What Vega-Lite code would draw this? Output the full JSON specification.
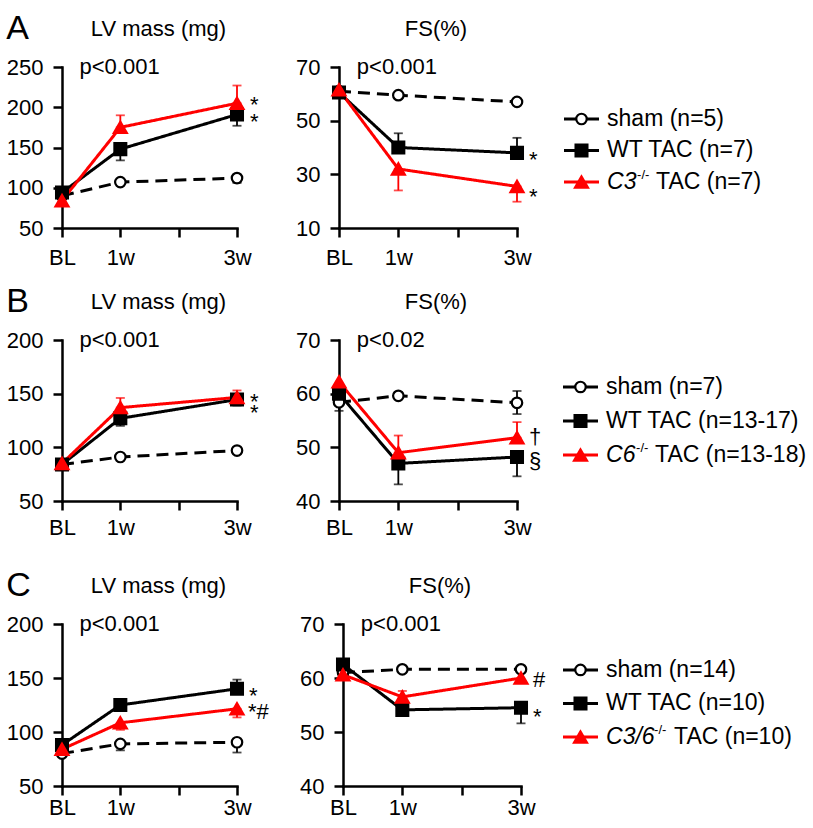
{
"$schema":"https://vega.github.io/schema/vega-lite/v6.json",
"background":"white",
"padding":{"left":6,"top":12,"right":0,"bottom":0},
"config":{"font":"Liberation Sans","view":{"stroke":null},
"axis":{"grid":false,"domainColor":"black","domainWidth":2.5,"domainCap":"square","tickColor":"black","tickWidth":2.5,"tickSize":9,"labelFontSize":22,"labelColor":"black","labelPadding":10},
"title":{"color":"black","fontWeight":"normal"},"text":{"color":"black"}},
"datasets":{
"pts":[
{"p":"A","m":"LV","g":"sham","w":0,"v":90},{"p":"A","m":"LV","g":"sham","w":1,"v":107},{"p":"A","m":"LV","g":"sham","w":3,"v":112,"lo":106,"hi":112},
{"p":"A","m":"LV","g":"WT","w":0,"v":94},{"p":"A","m":"LV","g":"WT","w":1,"v":148,"lo":134,"hi":148},{"p":"A","m":"LV","g":"WT","w":3,"v":191,"lo":177,"hi":191},
{"p":"A","m":"LV","g":"KO","w":0,"v":84},{"p":"A","m":"LV","g":"KO","w":1,"v":175,"lo":175,"hi":190},{"p":"A","m":"LV","g":"KO","w":3,"v":205,"lo":205,"hi":227},
{"p":"A","m":"FS","g":"sham","w":0,"v":61},{"p":"A","m":"FS","g":"sham","w":1,"v":59.5},{"p":"A","m":"FS","g":"sham","w":3,"v":57},
{"p":"A","m":"FS","g":"WT","w":0,"v":60.5},{"p":"A","m":"FS","g":"WT","w":1,"v":40,"lo":40,"hi":45.3},{"p":"A","m":"FS","g":"WT","w":3,"v":38,"lo":38,"hi":43.6},
{"p":"A","m":"FS","g":"KO","w":0,"v":61.5},{"p":"A","m":"FS","g":"KO","w":1,"v":32,"lo":24,"hi":32},{"p":"A","m":"FS","g":"KO","w":3,"v":25.5,"lo":19.8,"hi":25.5},
{"p":"B","m":"LV","g":"sham","w":0,"v":84},{"p":"B","m":"LV","g":"sham","w":1,"v":91},{"p":"B","m":"LV","g":"sham","w":3,"v":97,"lo":94,"hi":97},
{"p":"B","m":"LV","g":"WT","w":0,"v":84},{"p":"B","m":"LV","g":"WT","w":1,"v":127,"lo":120,"hi":127},{"p":"B","m":"LV","g":"WT","w":3,"v":144.5,"lo":139,"hi":144.5},
{"p":"B","m":"LV","g":"KO","w":0,"v":85},{"p":"B","m":"LV","g":"KO","w":1,"v":137,"lo":137,"hi":146},{"p":"B","m":"LV","g":"KO","w":3,"v":146.5,"lo":146.5,"hi":153},
{"p":"B","m":"FS","g":"sham","w":0,"v":58.4,"lo":56.8,"hi":58.4},{"p":"B","m":"FS","g":"sham","w":1,"v":59.6},{"p":"B","m":"FS","g":"sham","w":3,"v":58.3,"lo":56.2,"hi":60.5},
{"p":"B","m":"FS","g":"WT","w":0,"v":60},{"p":"B","m":"FS","g":"WT","w":1,"v":47,"lo":43.1,"hi":47},{"p":"B","m":"FS","g":"WT","w":3,"v":48.2,"lo":44.6,"hi":48.2},
{"p":"B","m":"FS","g":"KO","w":0,"v":62.2},{"p":"B","m":"FS","g":"KO","w":1,"v":49,"lo":49,"hi":52.2},{"p":"B","m":"FS","g":"KO","w":3,"v":51.8,"lo":51.8,"hi":54.7},
{"p":"C","m":"LV","g":"sham","w":0,"v":80},{"p":"C","m":"LV","g":"sham","w":1,"v":89,"lo":83,"hi":89},{"p":"C","m":"LV","g":"sham","w":3,"v":90.5,"lo":81,"hi":90.5},
{"p":"C","m":"LV","g":"WT","w":0,"v":88},{"p":"C","m":"LV","g":"WT","w":1,"v":125,"lo":125,"hi":127.5},{"p":"C","m":"LV","g":"WT","w":3,"v":140,"lo":140,"hi":148.5},
{"p":"C","m":"LV","g":"KO","w":0,"v":84},{"p":"C","m":"LV","g":"KO","w":1,"v":108.5,"lo":102,"hi":108.5},{"p":"C","m":"LV","g":"KO","w":3,"v":121.5,"lo":113.5,"hi":121.5},
{"p":"C","m":"FS","g":"sham","w":0,"v":61},{"p":"C","m":"FS","g":"sham","w":1,"v":61.6},{"p":"C","m":"FS","g":"sham","w":3,"v":61.6},
{"p":"C","m":"FS","g":"WT","w":0,"v":62.5},{"p":"C","m":"FS","g":"WT","w":1,"v":54.1,"lo":53,"hi":54.1},{"p":"C","m":"FS","g":"WT","w":3,"v":54.5,"lo":51.6,"hi":54.5},
{"p":"C","m":"FS","g":"KO","w":0,"v":60.6},{"p":"C","m":"FS","g":"KO","w":1,"v":56.5,"lo":56.5,"hi":57.6},{"p":"C","m":"FS","g":"KO","w":3,"v":60}
],
"ann":[
{"p":"A","m":"LV","w":3,"v":210,"lab":"*"},{"p":"A","m":"LV","w":3,"v":189,"lab":"*"},
{"p":"A","m":"FS","w":3,"v":37.4,"lab":"*"},{"p":"A","m":"FS","w":3,"v":23.9,"lab":"*"},
{"p":"B","m":"LV","w":3,"v":147.8,"lab":"*"},{"p":"B","m":"LV","w":3,"v":138,"lab":"*"},
{"p":"B","m":"FS","w":3,"v":51.9,"lab":"†"},{"p":"B","m":"FS","w":3,"v":47.5,"lab":"§"},
{"p":"C","m":"LV","w":3,"v":138.9,"lab":"*"},{"p":"C","m":"LV","w":3,"v":118.2,"lab":"*#"},
{"p":"C","m":"FS","w":3,"v":59.6,"lab":"#"},{"p":"C","m":"FS","w":3,"v":53.8,"lab":"*"}
],
"pv":[
{"p":"A","m":"LV","w":0.3,"v":250,"lab":"p<0.001"},{"p":"A","m":"FS","w":0.3,"v":70,"lab":"p<0.001"},
{"p":"B","m":"LV","w":0.3,"v":200,"lab":"p<0.001"},{"p":"B","m":"FS","w":0.3,"v":70,"lab":"p<0.02"},
{"p":"C","m":"LV","w":0.3,"v":200,"lab":"p<0.001"},{"p":"C","m":"FS","w":0.3,"v":70,"lab":"p<0.001"}
],
"leg":[
{"p":"A","ord":1,"g":"sham","lab":"sham (n=5)"},{"p":"A","ord":2,"g":"WT","lab":"WT TAC (n=7)"},{"p":"A","ord":3,"g":"KO","it":"C3","sup":"-/-","rest":"TAC (n=7)"},
{"p":"B","ord":1,"g":"sham","lab":"sham (n=7)"},{"p":"B","ord":2,"g":"WT","lab":"WT TAC (n=13-17)"},{"p":"B","ord":3,"g":"KO","it":"C6","sup":"-/-","rest":"TAC (n=13-18)"},
{"p":"C","ord":1,"g":"sham","lab":"sham (n=14)"},{"p":"C","ord":2,"g":"WT","lab":"WT TAC (n=10)"},{"p":"C","ord":3,"g":"KO","it":"C3/6","sup":"-/-","rest":"TAC (n=10)"}
]},
"resolve":{"scale":{"x":"independent","y":"independent"}},
"spacing":31,
"vconcat":[
{"spacing":17,"resolve":{"scale":{"x":"independent","y":"independent"}},
"vconcat":[
{"title":{"text":"A","anchor":"start","fontSize":34,"offset":-55,"baseline":"alphabetic","dx":0},
"spacing":24,"resolve":{"scale":{"x":"independent","y":"independent"}},
"hconcat":[
{"spacing":36,"resolve":{"scale":{"x":"independent","y":"independent"}},"hconcat":[
{"width":175,"height":161,"title":{"text":"LV mass (mg)","fontSize":22,"offset":-2,"dx":9,"frame":"group","baseline":"alphabetic"},
"encoding":{"x":{"field":"w","type":"quantitative","scale":{"domain":[0,3],"nice":false,"zero":false},"axis":{"values":[0,1,2,3],"labelExpr":"datum.value==0?'BL':(datum.value==2?'':datum.value+'w')","labelFlush":false,"title":null}},
"y":{"field":"v","type":"quantitative","scale":{"domain":[50,250],"nice":false,"zero":false},"axis":{"values":[50,100,150,200,250],"title":null}}},
"layer":[
{"data":{"name":"pts"},"transform":[{"filter":"datum.p=='A'&&datum.m=='LV'"}],"mark":{"type":"line","strokeWidth":3},"encoding":{"detail":{"field":"g"},"color":{"field":"g","type":"nominal","scale":{"domain":["sham","WT","KO"],"range":["#000000","#000000","#ff0000"]},"legend":null},"strokeDash":{"field":"g","type":"nominal","scale":{"domain":["sham","WT","KO"],"range":[[12,7],[1,0],[1,0]]},"legend":null}}},
{"data":{"name":"pts"},"transform":[{"filter":"datum.p=='A'&&datum.m=='LV'&&isValid(datum.lo)"}],"mark":{"type":"rule","strokeWidth":1.8},"encoding":{"y":{"field":"lo","type":"quantitative"},"y2":{"field":"hi"},"color":{"field":"g","type":"nominal","legend":null}}},
{"data":{"name":"pts"},"transform":[{"filter":"datum.p=='A'&&datum.m=='LV'&&isValid(datum.lo)"}],"mark":{"type":"tick","orient":"horizontal","size":9,"thickness":1.8},"encoding":{"y":{"field":"lo","type":"quantitative"},"color":{"field":"g","type":"nominal","legend":null}}},
{"data":{"name":"pts"},"transform":[{"filter":"datum.p=='A'&&datum.m=='LV'&&isValid(datum.hi)"}],"mark":{"type":"tick","orient":"horizontal","size":9,"thickness":1.8},"encoding":{"y":{"field":"hi","type":"quantitative"},"color":{"field":"g","type":"nominal","legend":null}}},
{"data":{"name":"pts"},"transform":[{"filter":"datum.p=='A'&&datum.m=='LV'"}],"mark":{"type":"point","filled":true,"strokeWidth":2.2,"opacity":1},"encoding":{"shape":{"field":"g","type":"nominal","scale":{"domain":["sham","WT","KO"],"range":["circle","square","triangle-up"]},"legend":null},"fill":{"field":"g","type":"nominal","scale":{"domain":["sham","WT","KO"],"range":["#ffffff","#000000","#ff0000"]},"legend":null},"stroke":{"field":"g","type":"nominal","scale":{"domain":["sham","WT","KO"],"range":["#000000","#000000","#ff0000"]},"legend":null},"size":{"field":"g","type":"ordinal","scale":{"domain":["sham","WT","KO"],"range":[110,170,210]},"legend":null}}},
{"data":{"name":"ann"},"transform":[{"filter":"datum.p=='A'&&datum.m=='LV'&&datum.lab=='*'"}],"mark":{"type":"text","align":"left","baseline":"middle","fontSize":22,"dx":13,"dy":6},"encoding":{"text":{"field":"lab"}}},
{"data":{"name":"ann"},"transform":[{"filter":"datum.p=='A'&&datum.m=='LV'&&datum.lab!='*'"}],"mark":{"type":"text","align":"left","baseline":"middle","fontSize":22,"dx":12},"encoding":{"text":{"field":"lab"}}},
{"data":{"name":"pv"},"transform":[{"filter":"datum.p=='A'&&datum.m=='LV'"}],"mark":{"type":"text","align":"left","baseline":"middle","fontSize":22},"encoding":{"text":{"field":"lab"}}}
]},
{"width":178,"height":161,"title":{"text":"FS(%)","fontSize":22,"offset":-2,"dx":8,"frame":"group","baseline":"alphabetic"},
"encoding":{"x":{"field":"w","type":"quantitative","scale":{"domain":[0,3],"nice":false,"zero":false},"axis":{"values":[0,1,2,3],"labelExpr":"datum.value==0?'BL':(datum.value==2?'':datum.value+'w')","labelFlush":false,"title":null}},
"y":{"field":"v","type":"quantitative","scale":{"domain":[10,70],"nice":false,"zero":false},"axis":{"values":[10,30,50,70],"title":null}}},
"layer":[
{"data":{"name":"pts"},"transform":[{"filter":"datum.p=='A'&&datum.m=='FS'"}],"mark":{"type":"line","strokeWidth":3},"encoding":{"detail":{"field":"g"},"color":{"field":"g","type":"nominal","scale":{"domain":["sham","WT","KO"],"range":["#000000","#000000","#ff0000"]},"legend":null},"strokeDash":{"field":"g","type":"nominal","scale":{"domain":["sham","WT","KO"],"range":[[12,7],[1,0],[1,0]]},"legend":null}}},
{"data":{"name":"pts"},"transform":[{"filter":"datum.p=='A'&&datum.m=='FS'&&isValid(datum.lo)"}],"mark":{"type":"rule","strokeWidth":1.8},"encoding":{"y":{"field":"lo","type":"quantitative"},"y2":{"field":"hi"},"color":{"field":"g","type":"nominal","legend":null}}},
{"data":{"name":"pts"},"transform":[{"filter":"datum.p=='A'&&datum.m=='FS'&&isValid(datum.lo)"}],"mark":{"type":"tick","orient":"horizontal","size":9,"thickness":1.8},"encoding":{"y":{"field":"lo","type":"quantitative"},"color":{"field":"g","type":"nominal","legend":null}}},
{"data":{"name":"pts"},"transform":[{"filter":"datum.p=='A'&&datum.m=='FS'&&isValid(datum.hi)"}],"mark":{"type":"tick","orient":"horizontal","size":9,"thickness":1.8},"encoding":{"y":{"field":"hi","type":"quantitative"},"color":{"field":"g","type":"nominal","legend":null}}},
{"data":{"name":"pts"},"transform":[{"filter":"datum.p=='A'&&datum.m=='FS'"}],"mark":{"type":"point","filled":true,"strokeWidth":2.2,"opacity":1},"encoding":{"shape":{"field":"g","type":"nominal","scale":{"domain":["sham","WT","KO"],"range":["circle","square","triangle-up"]},"legend":null},"fill":{"field":"g","type":"nominal","scale":{"domain":["sham","WT","KO"],"range":["#ffffff","#000000","#ff0000"]},"legend":null},"stroke":{"field":"g","type":"nominal","scale":{"domain":["sham","WT","KO"],"range":["#000000","#000000","#ff0000"]},"legend":null},"size":{"field":"g","type":"ordinal","scale":{"domain":["sham","WT","KO"],"range":[110,170,210]},"legend":null}}},
{"data":{"name":"ann"},"transform":[{"filter":"datum.p=='A'&&datum.m=='FS'&&datum.lab=='*'"}],"mark":{"type":"text","align":"left","baseline":"middle","fontSize":22,"dx":12,"dy":6},"encoding":{"text":{"field":"lab"}}},
{"data":{"name":"ann"},"transform":[{"filter":"datum.p=='A'&&datum.m=='FS'&&datum.lab!='*'"}],"mark":{"type":"text","align":"left","baseline":"middle","fontSize":22,"dx":12},"encoding":{"text":{"field":"lab"}}},
{"data":{"name":"pv"},"transform":[{"filter":"datum.p=='A'&&datum.m=='FS'"}],"mark":{"type":"text","align":"left","baseline":"middle","fontSize":22},"encoding":{"text":{"field":"lab"}}}
]}]},
{"width":210,"height":161,"data":{"name":"leg"},"transform":[{"filter":"datum.p=='A'"}],
"encoding":{"y":{"field":"ord","type":"quantitative","scale":{"domain":[-0.65,4.46],"reverse":true,"nice":false,"zero":false},"axis":null}},
"layer":[
{"mark":{"type":"rule","strokeWidth":3},"encoding":{"x":{"datum":0,"type":"quantitative","scale":{"domain":[0,6],"nice":false},"axis":null},"x2":{"datum":1},"color":{"field":"g","type":"nominal","scale":{"domain":["sham","WT","KO"],"range":["#000000","#000000","#ff0000"]},"legend":null}}},
{"mark":{"type":"point","filled":true,"strokeWidth":2.2,"opacity":1},"encoding":{"x":{"datum":0.5,"type":"quantitative"},"shape":{"field":"g","type":"nominal","scale":{"domain":["sham","WT","KO"],"range":["circle","square","triangle-up"]},"legend":null},"fill":{"field":"g","type":"nominal","scale":{"domain":["sham","WT","KO"],"range":["#ffffff","#000000","#ff0000"]},"legend":null},"stroke":{"field":"g","type":"nominal","scale":{"domain":["sham","WT","KO"],"range":["#000000","#000000","#ff0000"]},"legend":null},"size":{"field":"g","type":"ordinal","scale":{"domain":["sham","WT","KO"],"range":[110,110,210]},"legend":null}}},
{"transform":[{"filter":"datum.g!='KO'"}],"mark":{"type":"text","align":"left","baseline":"middle","fontSize":23},"encoding":{"x":{"datum":1.23,"type":"quantitative"},"text":{"field":"lab"}}},
{"transform":[{"filter":"datum.g=='KO'"}],"mark":{"type":"text","align":"left","baseline":"middle","fontSize":23,"fontStyle":"italic"},"encoding":{"x":{"datum":1.23,"type":"quantitative"},"text":{"field":"it"}}},
{"transform":[{"filter":"datum.g=='KO'"}],"mark":{"type":"text","align":"left","baseline":"middle","fontSize":13,"dx":30,"dy":-7},"encoding":{"x":{"datum":1.23,"type":"quantitative"},"text":{"field":"sup"}}},
{"transform":[{"filter":"datum.g=='KO'"}],"mark":{"type":"text","align":"left","baseline":"middle","fontSize":23,"dx":49},"encoding":{"x":{"datum":1.23,"type":"quantitative"},"text":{"field":"rest"}}}
]}
]},
{"title":{"text":"B","anchor":"start","fontSize":34,"offset":-55,"baseline":"alphabetic","dx":0},
"spacing":19,"resolve":{"scale":{"x":"independent","y":"independent"}},
"hconcat":[
{"spacing":36,"resolve":{"scale":{"x":"independent","y":"independent"}},"hconcat":[
{"width":175,"height":161,"title":{"text":"LV mass (mg)","fontSize":22,"offset":-2,"dx":9,"frame":"group","baseline":"alphabetic"},
"encoding":{"x":{"field":"w","type":"quantitative","scale":{"domain":[0,3],"nice":false,"zero":false},"axis":{"values":[0,1,2,3],"labelExpr":"datum.value==0?'BL':(datum.value==2?'':datum.value+'w')","labelFlush":false,"labelPadding":7,"title":null}},
"y":{"field":"v","type":"quantitative","scale":{"domain":[50,200],"nice":false,"zero":false},"axis":{"values":[50,100,150,200],"title":null}}},
"layer":[
{"data":{"name":"pts"},"transform":[{"filter":"datum.p=='B'&&datum.m=='LV'"}],"mark":{"type":"line","strokeWidth":3},"encoding":{"detail":{"field":"g"},"color":{"field":"g","type":"nominal","scale":{"domain":["sham","WT","KO"],"range":["#000000","#000000","#ff0000"]},"legend":null},"strokeDash":{"field":"g","type":"nominal","scale":{"domain":["sham","WT","KO"],"range":[[12,7],[1,0],[1,0]]},"legend":null}}},
{"data":{"name":"pts"},"transform":[{"filter":"datum.p=='B'&&datum.m=='LV'&&isValid(datum.lo)"}],"mark":{"type":"rule","strokeWidth":1.8},"encoding":{"y":{"field":"lo","type":"quantitative"},"y2":{"field":"hi"},"color":{"field":"g","type":"nominal","legend":null}}},
{"data":{"name":"pts"},"transform":[{"filter":"datum.p=='B'&&datum.m=='LV'&&isValid(datum.lo)"}],"mark":{"type":"tick","orient":"horizontal","size":9,"thickness":1.8},"encoding":{"y":{"field":"lo","type":"quantitative"},"color":{"field":"g","type":"nominal","legend":null}}},
{"data":{"name":"pts"},"transform":[{"filter":"datum.p=='B'&&datum.m=='LV'&&isValid(datum.hi)"}],"mark":{"type":"tick","orient":"horizontal","size":9,"thickness":1.8},"encoding":{"y":{"field":"hi","type":"quantitative"},"color":{"field":"g","type":"nominal","legend":null}}},
{"data":{"name":"pts"},"transform":[{"filter":"datum.p=='B'&&datum.m=='LV'"}],"mark":{"type":"point","filled":true,"strokeWidth":2.2,"opacity":1},"encoding":{"shape":{"field":"g","type":"nominal","scale":{"domain":["sham","WT","KO"],"range":["circle","square","triangle-up"]},"legend":null},"fill":{"field":"g","type":"nominal","scale":{"domain":["sham","WT","KO"],"range":["#ffffff","#000000","#ff0000"]},"legend":null},"stroke":{"field":"g","type":"nominal","scale":{"domain":["sham","WT","KO"],"range":["#000000","#000000","#ff0000"]},"legend":null},"size":{"field":"g","type":"ordinal","scale":{"domain":["sham","WT","KO"],"range":[110,170,210]},"legend":null}}},
{"data":{"name":"ann"},"transform":[{"filter":"datum.p=='B'&&datum.m=='LV'&&datum.lab=='*'"}],"mark":{"type":"text","align":"left","baseline":"middle","fontSize":22,"dx":13,"dy":6},"encoding":{"text":{"field":"lab"}}},
{"data":{"name":"ann"},"transform":[{"filter":"datum.p=='B'&&datum.m=='LV'&&datum.lab!='*'"}],"mark":{"type":"text","align":"left","baseline":"middle","fontSize":22,"dx":12},"encoding":{"text":{"field":"lab"}}},
{"data":{"name":"pv"},"transform":[{"filter":"datum.p=='B'&&datum.m=='LV'"}],"mark":{"type":"text","align":"left","baseline":"middle","fontSize":22},"encoding":{"text":{"field":"lab"}}}
]},
{"width":178,"height":161,"title":{"text":"FS(%)","fontSize":22,"offset":-2,"dx":8,"frame":"group","baseline":"alphabetic"},
"encoding":{"x":{"field":"w","type":"quantitative","scale":{"domain":[0,3],"nice":false,"zero":false},"axis":{"values":[0,1,2,3],"labelExpr":"datum.value==0?'BL':(datum.value==2?'':datum.value+'w')","labelFlush":false,"labelPadding":7,"title":null}},
"y":{"field":"v","type":"quantitative","scale":{"domain":[40,70],"nice":false,"zero":false},"axis":{"values":[40,50,60,70],"title":null}}},
"layer":[
{"data":{"name":"pts"},"transform":[{"filter":"datum.p=='B'&&datum.m=='FS'"}],"mark":{"type":"line","strokeWidth":3},"encoding":{"detail":{"field":"g"},"color":{"field":"g","type":"nominal","scale":{"domain":["sham","WT","KO"],"range":["#000000","#000000","#ff0000"]},"legend":null},"strokeDash":{"field":"g","type":"nominal","scale":{"domain":["sham","WT","KO"],"range":[[12,7],[1,0],[1,0]]},"legend":null}}},
{"data":{"name":"pts"},"transform":[{"filter":"datum.p=='B'&&datum.m=='FS'&&isValid(datum.lo)"}],"mark":{"type":"rule","strokeWidth":1.8},"encoding":{"y":{"field":"lo","type":"quantitative"},"y2":{"field":"hi"},"color":{"field":"g","type":"nominal","legend":null}}},
{"data":{"name":"pts"},"transform":[{"filter":"datum.p=='B'&&datum.m=='FS'&&isValid(datum.lo)"}],"mark":{"type":"tick","orient":"horizontal","size":9,"thickness":1.8},"encoding":{"y":{"field":"lo","type":"quantitative"},"color":{"field":"g","type":"nominal","legend":null}}},
{"data":{"name":"pts"},"transform":[{"filter":"datum.p=='B'&&datum.m=='FS'&&isValid(datum.hi)"}],"mark":{"type":"tick","orient":"horizontal","size":9,"thickness":1.8},"encoding":{"y":{"field":"hi","type":"quantitative"},"color":{"field":"g","type":"nominal","legend":null}}},
{"data":{"name":"pts"},"transform":[{"filter":"datum.p=='B'&&datum.m=='FS'"}],"mark":{"type":"point","filled":true,"strokeWidth":2.2,"opacity":1},"encoding":{"shape":{"field":"g","type":"nominal","scale":{"domain":["sham","WT","KO"],"range":["circle","square","triangle-up"]},"legend":null},"fill":{"field":"g","type":"nominal","scale":{"domain":["sham","WT","KO"],"range":["#ffffff","#000000","#ff0000"]},"legend":null},"stroke":{"field":"g","type":"nominal","scale":{"domain":["sham","WT","KO"],"range":["#000000","#000000","#ff0000"]},"legend":null},"size":{"field":"g","type":"ordinal","scale":{"domain":["sham","WT","KO"],"range":[110,170,210]},"legend":null}}},
{"data":{"name":"ann"},"transform":[{"filter":"datum.p=='B'&&datum.m=='FS'&&datum.lab=='*'"}],"mark":{"type":"text","align":"left","baseline":"middle","fontSize":22,"dx":12,"dy":6},"encoding":{"text":{"field":"lab"}}},
{"data":{"name":"ann"},"transform":[{"filter":"datum.p=='B'&&datum.m=='FS'&&datum.lab!='*'"}],"mark":{"type":"text","align":"left","baseline":"middle","fontSize":22,"dx":12},"encoding":{"text":{"field":"lab"}}},
{"data":{"name":"pv"},"transform":[{"filter":"datum.p=='B'&&datum.m=='FS'"}],"mark":{"type":"text","align":"left","baseline":"middle","fontSize":22},"encoding":{"text":{"field":"lab"}}}
]}]},
{"width":210,"height":161,"data":{"name":"leg"},"transform":[{"filter":"datum.p=='B'"}],
"encoding":{"y":{"field":"ord","type":"quantitative","scale":{"domain":[-0.38,4.35],"reverse":true,"nice":false,"zero":false},"axis":null}},
"layer":[
{"mark":{"type":"rule","strokeWidth":3},"encoding":{"x":{"datum":0,"type":"quantitative","scale":{"domain":[0,6],"nice":false},"axis":null},"x2":{"datum":1},"color":{"field":"g","type":"nominal","scale":{"domain":["sham","WT","KO"],"range":["#000000","#000000","#ff0000"]},"legend":null}}},
{"mark":{"type":"point","filled":true,"strokeWidth":2.2,"opacity":1},"encoding":{"x":{"datum":0.5,"type":"quantitative"},"shape":{"field":"g","type":"nominal","scale":{"domain":["sham","WT","KO"],"range":["circle","square","triangle-up"]},"legend":null},"fill":{"field":"g","type":"nominal","scale":{"domain":["sham","WT","KO"],"range":["#ffffff","#000000","#ff0000"]},"legend":null},"stroke":{"field":"g","type":"nominal","scale":{"domain":["sham","WT","KO"],"range":["#000000","#000000","#ff0000"]},"legend":null},"size":{"field":"g","type":"ordinal","scale":{"domain":["sham","WT","KO"],"range":[110,110,210]},"legend":null}}},
{"transform":[{"filter":"datum.g!='KO'"}],"mark":{"type":"text","align":"left","baseline":"middle","fontSize":23},"encoding":{"x":{"datum":1.23,"type":"quantitative"},"text":{"field":"lab"}}},
{"transform":[{"filter":"datum.g=='KO'"}],"mark":{"type":"text","align":"left","baseline":"middle","fontSize":23,"fontStyle":"italic"},"encoding":{"x":{"datum":1.23,"type":"quantitative"},"text":{"field":"it"}}},
{"transform":[{"filter":"datum.g=='KO'"}],"mark":{"type":"text","align":"left","baseline":"middle","fontSize":13,"dx":30,"dy":-7},"encoding":{"x":{"datum":1.23,"type":"quantitative"},"text":{"field":"sup"}}},
{"transform":[{"filter":"datum.g=='KO'"}],"mark":{"type":"text","align":"left","baseline":"middle","fontSize":23,"dx":49},"encoding":{"x":{"datum":1.23,"type":"quantitative"},"text":{"field":"rest"}}}
]}
]}
]},
{"title":{"text":"C","anchor":"start","fontSize":34,"offset":-55,"baseline":"alphabetic","dx":0},
"spacing":15,"resolve":{"scale":{"x":"independent","y":"independent"}},
"hconcat":[
{"spacing":30,"resolve":{"scale":{"x":"independent","y":"independent"}},"hconcat":[
{"width":175,"height":162,"title":{"text":"LV mass (mg)","fontSize":22,"offset":-2,"dx":9,"frame":"group","baseline":"alphabetic"},
"encoding":{"x":{"field":"w","type":"quantitative","scale":{"domain":[0,3],"nice":false,"zero":false},"axis":{"values":[0,1,2,3],"labelExpr":"datum.value==0?'BL':(datum.value==2?'':datum.value+'w')","labelFlush":false,"labelPadding":2,"title":null}},
"y":{"field":"v","type":"quantitative","scale":{"domain":[50,200],"nice":false,"zero":false},"axis":{"values":[50,100,150,200],"title":null}}},
"layer":[
{"data":{"name":"pts"},"transform":[{"filter":"datum.p=='C'&&datum.m=='LV'"}],"mark":{"type":"line","strokeWidth":3},"encoding":{"detail":{"field":"g"},"color":{"field":"g","type":"nominal","scale":{"domain":["sham","WT","KO"],"range":["#000000","#000000","#ff0000"]},"legend":null},"strokeDash":{"field":"g","type":"nominal","scale":{"domain":["sham","WT","KO"],"range":[[12,7],[1,0],[1,0]]},"legend":null}}},
{"data":{"name":"pts"},"transform":[{"filter":"datum.p=='C'&&datum.m=='LV'&&isValid(datum.lo)"}],"mark":{"type":"rule","strokeWidth":1.8},"encoding":{"y":{"field":"lo","type":"quantitative"},"y2":{"field":"hi"},"color":{"field":"g","type":"nominal","legend":null}}},
{"data":{"name":"pts"},"transform":[{"filter":"datum.p=='C'&&datum.m=='LV'&&isValid(datum.lo)"}],"mark":{"type":"tick","orient":"horizontal","size":9,"thickness":1.8},"encoding":{"y":{"field":"lo","type":"quantitative"},"color":{"field":"g","type":"nominal","legend":null}}},
{"data":{"name":"pts"},"transform":[{"filter":"datum.p=='C'&&datum.m=='LV'&&isValid(datum.hi)"}],"mark":{"type":"tick","orient":"horizontal","size":9,"thickness":1.8},"encoding":{"y":{"field":"hi","type":"quantitative"},"color":{"field":"g","type":"nominal","legend":null}}},
{"data":{"name":"pts"},"transform":[{"filter":"datum.p=='C'&&datum.m=='LV'"}],"mark":{"type":"point","filled":true,"strokeWidth":2.2,"opacity":1},"encoding":{"shape":{"field":"g","type":"nominal","scale":{"domain":["sham","WT","KO"],"range":["circle","square","triangle-up"]},"legend":null},"fill":{"field":"g","type":"nominal","scale":{"domain":["sham","WT","KO"],"range":["#ffffff","#000000","#ff0000"]},"legend":null},"stroke":{"field":"g","type":"nominal","scale":{"domain":["sham","WT","KO"],"range":["#000000","#000000","#ff0000"]},"legend":null},"size":{"field":"g","type":"ordinal","scale":{"domain":["sham","WT","KO"],"range":[110,170,210]},"legend":null}}},
{"data":{"name":"ann"},"transform":[{"filter":"datum.p=='C'&&datum.m=='LV'&&datum.lab=='*'"}],"mark":{"type":"text","align":"left","baseline":"middle","fontSize":22,"dx":12,"dy":6},"encoding":{"text":{"field":"lab"}}},
{"data":{"name":"ann"},"transform":[{"filter":"datum.p=='C'&&datum.m=='LV'&&datum.lab!='*'"}],"mark":{"type":"text","align":"left","baseline":"middle","fontSize":22,"dx":11},"encoding":{"text":{"field":"lab"}}},
{"data":{"name":"pv"},"transform":[{"filter":"datum.p=='C'&&datum.m=='LV'"}],"mark":{"type":"text","align":"left","baseline":"middle","fontSize":22},"encoding":{"text":{"field":"lab"}}}
]},
{"width":178,"height":162,"title":{"text":"FS(%)","fontSize":22,"offset":-2,"dx":8,"frame":"group","baseline":"alphabetic"},
"encoding":{"x":{"field":"w","type":"quantitative","scale":{"domain":[0,3],"nice":false,"zero":false},"axis":{"values":[0,1,2,3],"labelExpr":"datum.value==0?'BL':(datum.value==2?'':datum.value+'w')","labelFlush":false,"labelPadding":2,"title":null}},
"y":{"field":"v","type":"quantitative","scale":{"domain":[40,70],"nice":false,"zero":false},"axis":{"values":[40,50,60,70],"title":null}}},
"layer":[
{"data":{"name":"pts"},"transform":[{"filter":"datum.p=='C'&&datum.m=='FS'"}],"mark":{"type":"line","strokeWidth":3},"encoding":{"detail":{"field":"g"},"color":{"field":"g","type":"nominal","scale":{"domain":["sham","WT","KO"],"range":["#000000","#000000","#ff0000"]},"legend":null},"strokeDash":{"field":"g","type":"nominal","scale":{"domain":["sham","WT","KO"],"range":[[12,7],[1,0],[1,0]]},"legend":null}}},
{"data":{"name":"pts"},"transform":[{"filter":"datum.p=='C'&&datum.m=='FS'&&isValid(datum.lo)"}],"mark":{"type":"rule","strokeWidth":1.8},"encoding":{"y":{"field":"lo","type":"quantitative"},"y2":{"field":"hi"},"color":{"field":"g","type":"nominal","legend":null}}},
{"data":{"name":"pts"},"transform":[{"filter":"datum.p=='C'&&datum.m=='FS'&&isValid(datum.lo)"}],"mark":{"type":"tick","orient":"horizontal","size":9,"thickness":1.8},"encoding":{"y":{"field":"lo","type":"quantitative"},"color":{"field":"g","type":"nominal","legend":null}}},
{"data":{"name":"pts"},"transform":[{"filter":"datum.p=='C'&&datum.m=='FS'&&isValid(datum.hi)"}],"mark":{"type":"tick","orient":"horizontal","size":9,"thickness":1.8},"encoding":{"y":{"field":"hi","type":"quantitative"},"color":{"field":"g","type":"nominal","legend":null}}},
{"data":{"name":"pts"},"transform":[{"filter":"datum.p=='C'&&datum.m=='FS'"}],"mark":{"type":"point","filled":true,"strokeWidth":2.2,"opacity":1},"encoding":{"shape":{"field":"g","type":"nominal","scale":{"domain":["sham","WT","KO"],"range":["circle","square","triangle-up"]},"legend":null},"fill":{"field":"g","type":"nominal","scale":{"domain":["sham","WT","KO"],"range":["#ffffff","#000000","#ff0000"]},"legend":null},"stroke":{"field":"g","type":"nominal","scale":{"domain":["sham","WT","KO"],"range":["#000000","#000000","#ff0000"]},"legend":null},"size":{"field":"g","type":"ordinal","scale":{"domain":["sham","WT","KO"],"range":[110,170,210]},"legend":null}}},
{"data":{"name":"ann"},"transform":[{"filter":"datum.p=='C'&&datum.m=='FS'&&datum.lab=='*'"}],"mark":{"type":"text","align":"left","baseline":"middle","fontSize":22,"dx":12,"dy":6},"encoding":{"text":{"field":"lab"}}},
{"data":{"name":"ann"},"transform":[{"filter":"datum.p=='C'&&datum.m=='FS'&&datum.lab!='*'"}],"mark":{"type":"text","align":"left","baseline":"middle","fontSize":22,"dx":12},"encoding":{"text":{"field":"lab"}}},
{"data":{"name":"pv"},"transform":[{"filter":"datum.p=='C'&&datum.m=='FS'"}],"mark":{"type":"text","align":"left","baseline":"middle","fontSize":22},"encoding":{"text":{"field":"lab"}}}
]}]},
{"width":210,"height":162,"data":{"name":"leg"},"transform":[{"filter":"datum.p=='C'"}],
"encoding":{"y":{"field":"ord","type":"quantitative","scale":{"domain":[-0.37,4.46],"reverse":true,"nice":false,"zero":false},"axis":null}},
"layer":[
{"mark":{"type":"rule","strokeWidth":3},"encoding":{"x":{"datum":0,"type":"quantitative","scale":{"domain":[0,6],"nice":false},"axis":null},"x2":{"datum":1},"color":{"field":"g","type":"nominal","scale":{"domain":["sham","WT","KO"],"range":["#000000","#000000","#ff0000"]},"legend":null}}},
{"mark":{"type":"point","filled":true,"strokeWidth":2.2,"opacity":1},"encoding":{"x":{"datum":0.5,"type":"quantitative"},"shape":{"field":"g","type":"nominal","scale":{"domain":["sham","WT","KO"],"range":["circle","square","triangle-up"]},"legend":null},"fill":{"field":"g","type":"nominal","scale":{"domain":["sham","WT","KO"],"range":["#ffffff","#000000","#ff0000"]},"legend":null},"stroke":{"field":"g","type":"nominal","scale":{"domain":["sham","WT","KO"],"range":["#000000","#000000","#ff0000"]},"legend":null},"size":{"field":"g","type":"ordinal","scale":{"domain":["sham","WT","KO"],"range":[110,110,210]},"legend":null}}},
{"transform":[{"filter":"datum.g!='KO'"}],"mark":{"type":"text","align":"left","baseline":"middle","fontSize":23},"encoding":{"x":{"datum":1.23,"type":"quantitative"},"text":{"field":"lab"}}},
{"transform":[{"filter":"datum.g=='KO'"}],"mark":{"type":"text","align":"left","baseline":"middle","fontSize":23,"fontStyle":"italic"},"encoding":{"x":{"datum":1.23,"type":"quantitative"},"text":{"field":"it"}}},
{"transform":[{"filter":"datum.g=='KO'"}],"mark":{"type":"text","align":"left","baseline":"middle","fontSize":13,"dx":48,"dy":-7},"encoding":{"x":{"datum":1.23,"type":"quantitative"},"text":{"field":"sup"}}},
{"transform":[{"filter":"datum.g=='KO'"}],"mark":{"type":"text","align":"left","baseline":"middle","fontSize":23,"dx":68},"encoding":{"x":{"datum":1.23,"type":"quantitative"},"text":{"field":"rest"}}}
]}
]}
]
}
